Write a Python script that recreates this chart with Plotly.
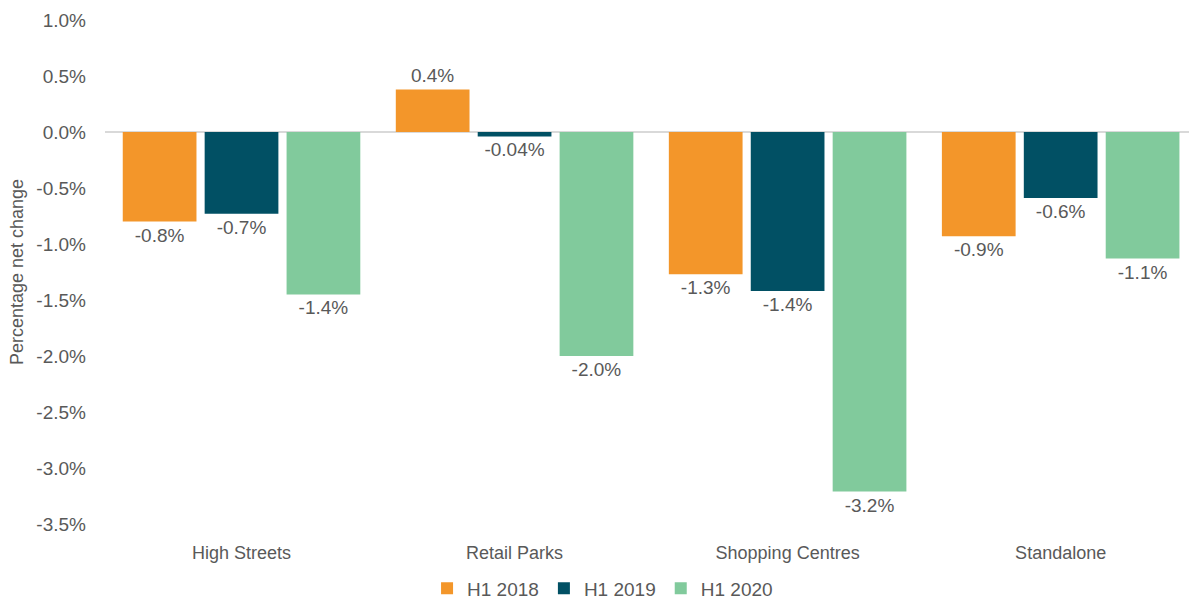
import plotly.graph_objects as go

categories = ["High Streets", "Retail Parks", "Shopping Centres", "Standalone"]
series_names = ["H1 2018", "H1 2019", "H1 2020"]
h1_2018 = [-0.80, 0.38, -1.27, -0.93]
h1_2019 = [-0.73, -0.04, -1.42, -0.59]
h1_2020 = [-1.45, -2.00, -3.21, -1.13]
colors = ["#F3962A", "#015064", "#81CA9C"]
y_ticks = [1.0, 0.5, 0.0, -0.5, -1.0, -1.5, -2.0, -2.5, -3.0, -3.5]


def fmt(v):
    if abs(v) < 0.1:
        return f"{v:.2f}%"
    return f"{v:.1f}%"


font_family = "Liberation Sans, Arial, sans-serif"
text_color = "#595959"

fig = go.Figure()
for name, vals, col in zip(series_names, [h1_2018, h1_2019, h1_2020], colors):
    fig.add_trace(go.Bar(
        x=categories, y=vals, name=name,
        marker=dict(color=col, line=dict(width=0)),
        text=[fmt(v) for v in vals], textposition="outside",
        textfont=dict(size=19, color=text_color, family=font_family),
        cliponaxis=False,
    ))

fig.update_layout(
    width=1189, height=601,
    paper_bgcolor="white", plot_bgcolor="white",
    margin=dict(l=105, r=0, t=20, b=77, autoexpand=False),
    barmode="group", bargap=0.1, bargroupgap=0.1,
    font=dict(family=font_family, color=text_color, size=18),
    showlegend=True,
    legend=dict(orientation="h", x=0.459, xanchor="center", y=-0.09, yanchor="top",
                font=dict(size=19, color=text_color), itemwidth=30,
                traceorder="normal"),
)
fig.update_xaxes(range=[-0.5, 3.47], showline=False, showgrid=False, ticks="",
                 ticklabelstandoff=16,
                 tickfont=dict(size=18, color=text_color))
fig.update_yaxes(range=[-3.5, 1.0], tickvals=y_ticks,
                 ticktext=[f"{t:.1f}%" for t in y_ticks],
                 showgrid=False, zeroline=True, zerolinecolor="#d9d9d9", zerolinewidth=1.5,
                 showline=False, ticks="", ticklabelstandoff=18,
                 tickfont=dict(size=19, color=text_color),
                 title=dict(text="Percentage net change", font=dict(size=18, color=text_color),
                            standoff=8))

fig.write_html("out.html", config={"displayModeBar": False},
               post_script="document.body.style.margin='0';")
